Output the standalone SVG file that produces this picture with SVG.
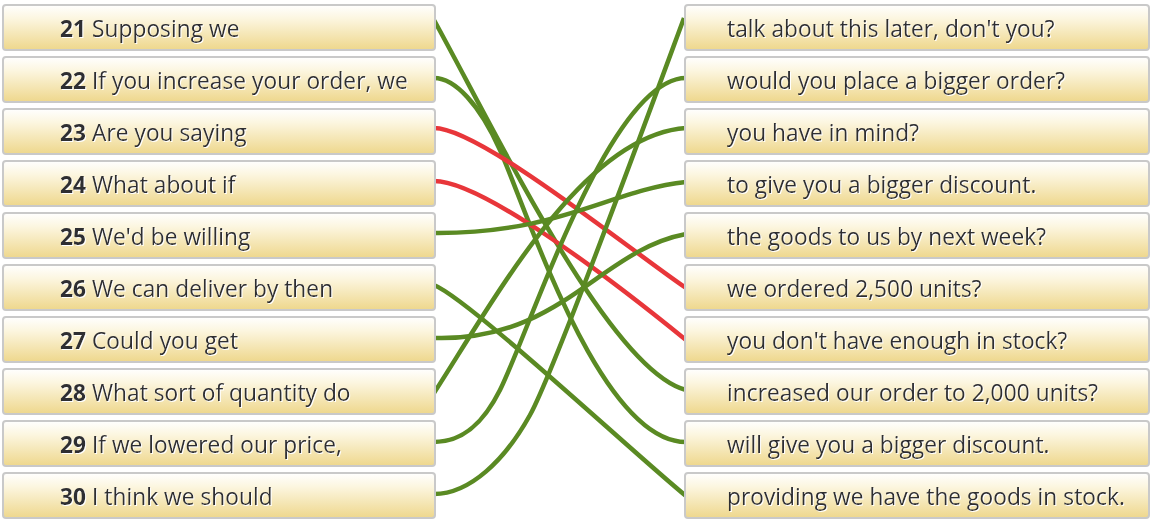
<svg xmlns="http://www.w3.org/2000/svg" width="1153" height="525" viewBox="0 0 1153 525">
<defs>
<linearGradient id="boxGrad" x1="0" y1="0" x2="0" y2="1">
<stop offset="0" stop-color="#ffffff"/>
<stop offset="0.3" stop-color="#fcf6e0"/>
<stop offset="1" stop-color="#eed78c"/>
</linearGradient>
<filter id="shadow" x="-5%" y="-20%" width="110%" height="140%">
<feOffset in="SourceAlpha" dx="1" dy="1" result="off"/>
<feFlood flood-color="#ffffff" result="white"/>
<feComposite in="white" in2="off" operator="in" result="sh"/>
<feMerge><feMergeNode in="sh"/><feMergeNode in="SourceGraphic"/></feMerge>
</filter>
</defs>
<style>
.box{fill:url(#boxGrad);stroke:#c9c9c9;stroke-width:2}
.t{font-family:"Open Sans","Noto Sans","DejaVu Sans",sans-serif;font-size:22.8px;fill:#2e2e33;filter:url(#shadow)}
.n{font-weight:700}
.ok{fill:none;stroke:#5a8a23;stroke-width:4.5}
.bad{fill:none;stroke:#e8363a;stroke-width:4.5}
</style>
<rect width="1153" height="525" fill="#ffffff"/>
<g id="connectors">
<path class="ok" d="M434,20 C500,140 610,370 686,390"/>
<path class="ok" d="M434,78 C455,78 480,105 500,150 C528,213 600,442 686,442"/>
<path class="bad" d="M434,128 C480,128 630,250 686,288"/>
<path class="bad" d="M434,181 C480,181 600,270 686,340"/>
<path class="ok" d="M434,233 C560,234 610,190 686,182"/>
<path class="ok" d="M434,285 C470,300 630,450 686,496"/>
<path class="ok" d="M434,338 C560,342 600,250 686,234"/>
<path class="ok" d="M434,393 C500,290 585,135 686,128"/>
<path class="ok" d="M434,442 C465,442 485,420 500,390 C530,330 610,78 686,78"/>
<path class="ok" d="M434,494 C470,494 505,460 530,415 C555,370 650,110 684,18"/>
</g>
<g id="left-21"><rect class="box" x="3" y="5" width="432" height="45" rx="3"/><text class="t" x="60" y="37"><tspan class="n">21</tspan> Supposing we</text></g>
<g id="left-22"><rect class="box" x="3" y="57" width="432" height="45" rx="3"/><text class="t" x="60" y="89"><tspan class="n">22</tspan> If you increase your order, we</text></g>
<g id="left-23"><rect class="box" x="3" y="109" width="432" height="45" rx="3"/><text class="t" x="60" y="141"><tspan class="n">23</tspan> Are you saying</text></g>
<g id="left-24"><rect class="box" x="3" y="161" width="432" height="45" rx="3"/><text class="t" x="60" y="193"><tspan class="n">24</tspan> What about if</text></g>
<g id="left-25"><rect class="box" x="3" y="213" width="432" height="45" rx="3"/><text class="t" x="60" y="245"><tspan class="n">25</tspan> We'd be willing</text></g>
<g id="left-26"><rect class="box" x="3" y="265" width="432" height="45" rx="3"/><text class="t" x="60" y="297"><tspan class="n">26</tspan> We can deliver by then</text></g>
<g id="left-27"><rect class="box" x="3" y="317" width="432" height="45" rx="3"/><text class="t" x="60" y="349"><tspan class="n">27</tspan> Could you get</text></g>
<g id="left-28"><rect class="box" x="3" y="369" width="432" height="45" rx="3"/><text class="t" x="60" y="401"><tspan class="n">28</tspan> What sort of quantity do</text></g>
<g id="left-29"><rect class="box" x="3" y="421" width="432" height="45" rx="3"/><text class="t" x="60" y="453"><tspan class="n">29</tspan> If we lowered our price,</text></g>
<g id="left-30"><rect class="box" x="3" y="473" width="432" height="45" rx="3"/><text class="t" x="60" y="505"><tspan class="n">30</tspan> I think we should</text></g>
<g id="right-a"><rect class="box" x="685" y="5" width="464" height="45" rx="3"/><text class="t" x="727" y="37">talk about this later, don't you?</text></g>
<g id="right-b"><rect class="box" x="685" y="57" width="464" height="45" rx="3"/><text class="t" x="727" y="89">would you place a bigger order?</text></g>
<g id="right-c"><rect class="box" x="685" y="109" width="464" height="45" rx="3"/><text class="t" x="727" y="141">you have in mind?</text></g>
<g id="right-d"><rect class="box" x="685" y="161" width="464" height="45" rx="3"/><text class="t" x="727" y="193">to give you a bigger discount.</text></g>
<g id="right-e"><rect class="box" x="685" y="213" width="464" height="45" rx="3"/><text class="t" x="727" y="245">the goods to us by next week?</text></g>
<g id="right-f"><rect class="box" x="685" y="265" width="464" height="45" rx="3"/><text class="t" x="727" y="297">we ordered 2,500 units?</text></g>
<g id="right-g"><rect class="box" x="685" y="317" width="464" height="45" rx="3"/><text class="t" x="727" y="349">you don't have enough in stock?</text></g>
<g id="right-h"><rect class="box" x="685" y="369" width="464" height="45" rx="3"/><text class="t" x="727" y="401">increased our order to 2,000 units?</text></g>
<g id="right-i"><rect class="box" x="685" y="421" width="464" height="45" rx="3"/><text class="t" x="727" y="453">will give you a bigger discount.</text></g>
<g id="right-j"><rect class="box" x="685" y="473" width="464" height="45" rx="3"/><text class="t" x="727" y="505">providing we have the goods in stock.</text></g>
</svg>
